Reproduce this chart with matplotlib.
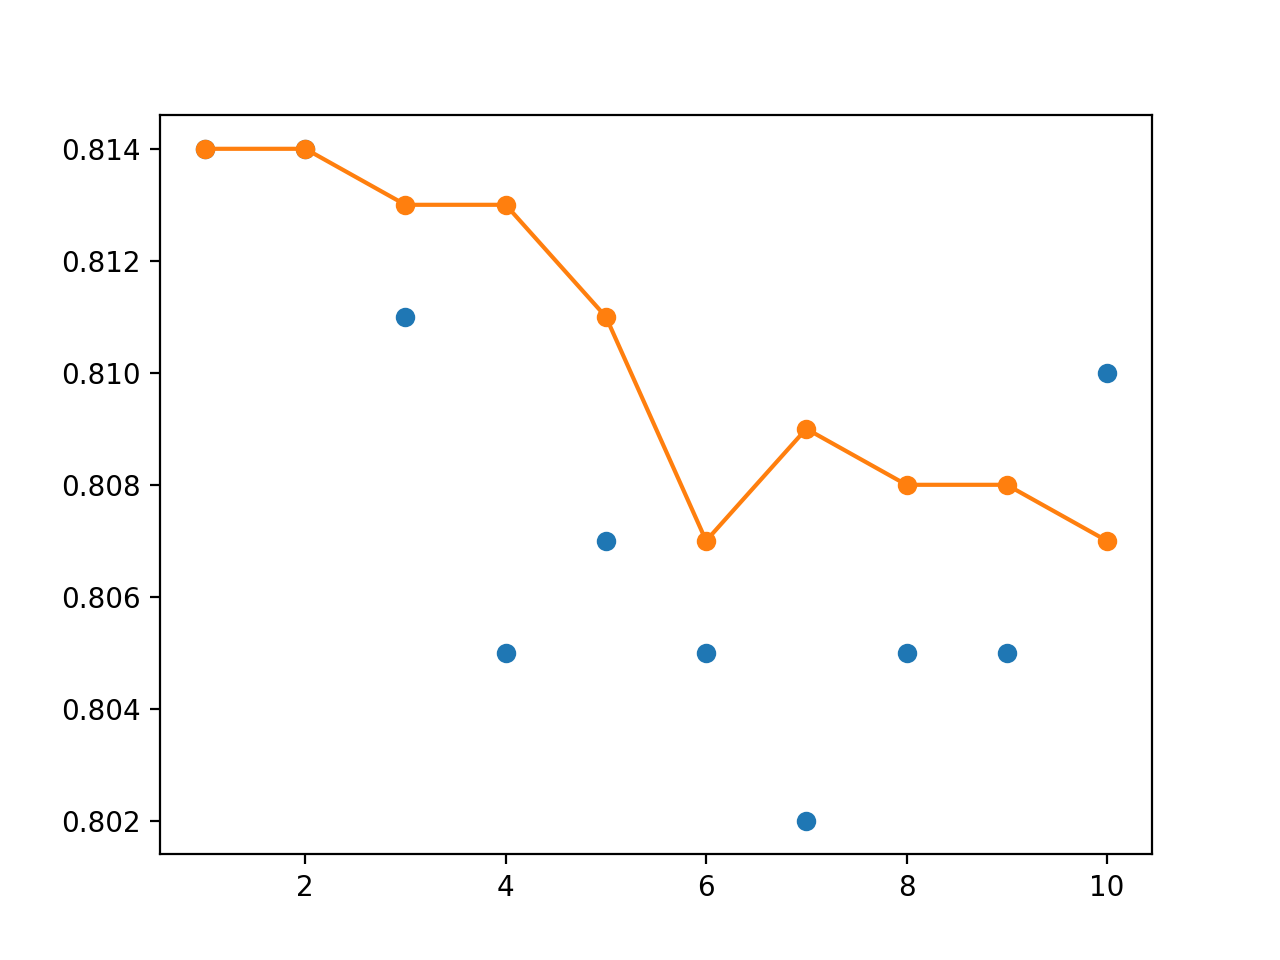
import numpy as np
import matplotlib.pyplot as plt

x = [1, 2, 3, 4, 5, 6, 7, 8, 9, 10]
puntos = [0.814, 0.814, 0.811, 0.805, 0.807, 0.805, 0.802, 0.805, 0.805, 0.810]
linea = [0.814, 0.814, 0.813, 0.813, 0.811, 0.807, 0.809, 0.808, 0.808, 0.807]

plt.figure(figsize=(6.4, 4.8))
plt.scatter(x, puntos)
plt.plot(x, linea, 'o-', color='C1')
plt.savefig('out.png', dpi=200)
